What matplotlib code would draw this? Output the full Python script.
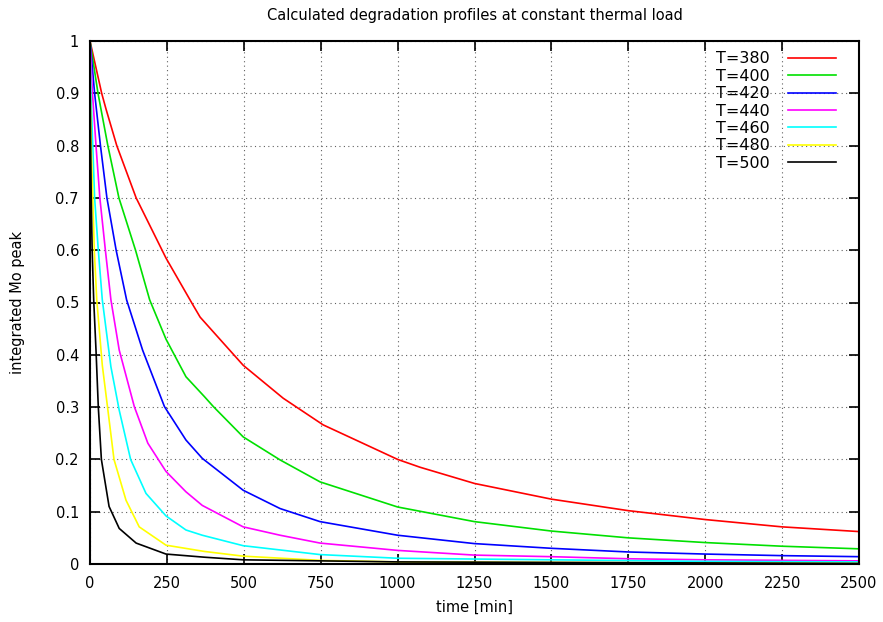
import matplotlib
matplotlib.use('Agg')
import matplotlib.pyplot as plt

plt.rcParams['font.family'] = ['DejaVu Sans']

# values (time in min, integrated Mo peak)
t380 = [0, 38, 52, 87, 150, 204, 247, 334, 358, 498, 628, 758, 1000, 1073, 1250, 1500, 1750, 2000, 2250, 2500]
y380 = [1.0, 0.90, 0.87, 0.80, 0.70, 0.636, 0.585, 0.496, 0.472, 0.380, 0.317, 0.266, 0.200, 0.185, 0.154, 0.124, 0.102, 0.085, 0.071, 0.062]

t400 = [0, 26, 58, 94, 148, 194, 247, 312, 372, 401, 498, 618, 748, 1000, 1250, 1500, 1750, 2000, 2250, 2500]
y400 = [1.0, 0.90, 0.80, 0.70, 0.60, 0.505, 0.43, 0.358, 0.32, 0.301, 0.243, 0.199, 0.157, 0.109, 0.081, 0.063, 0.050, 0.041, 0.034, 0.029]

t420 = [0, 15, 34, 55, 85, 119, 171, 242, 312, 365, 498, 618, 748, 1000, 1250, 1500, 1750, 2000, 2250, 2500]
y420 = [1.0, 0.90, 0.80, 0.70, 0.60, 0.505, 0.409, 0.301, 0.237, 0.202, 0.141, 0.106, 0.081, 0.055, 0.039, 0.030, 0.023, 0.019, 0.016, 0.014]

t440 = [0, 8, 19.5, 32, 50, 68, 95, 144, 188, 247, 312, 365, 498, 618, 748, 1000, 1250, 1500, 1750, 2000, 2250, 2500]
y440 = [1.0, 0.90, 0.80, 0.70, 0.60, 0.505, 0.409, 0.301, 0.231, 0.177, 0.138, 0.112, 0.071, 0.055, 0.040, 0.026, 0.017, 0.014, 0.010, 0.008, 0.007, 0.006]

t460 = [0, 3, 9, 15, 27, 40, 68, 95, 132, 182, 247, 312, 365, 498, 748, 1000, 1500, 2000, 2500]
y460 = [1.0, 0.90, 0.80, 0.70, 0.60, 0.505, 0.377, 0.294, 0.200, 0.135, 0.092, 0.065, 0.055, 0.035, 0.018, 0.011, 0.008, 0.005, 0.004]

t480 = [0, 1, 4, 9, 14, 22, 40, 57, 78, 117, 160, 247, 372, 498, 748, 1000, 1500, 2500]
y480 = [1.0, 0.90, 0.80, 0.70, 0.60, 0.505, 0.38, 0.30, 0.20, 0.122, 0.071, 0.036, 0.024, 0.015, 0.007, 0.004, 0.003, 0.001]

t500 = [0, 0.5, 2, 4, 7, 12, 19.5, 27, 37, 62, 95, 150, 247, 372, 498, 1000, 2500]
y500 = [1.0, 0.90, 0.80, 0.70, 0.60, 0.505, 0.409, 0.30, 0.20, 0.11, 0.068, 0.040, 0.019, 0.013, 0.008, 0.004, 0.001]

series = [
    ('T=380', t380, y380, '#ff0000'),
    ('T=400', t400, y400, '#00e000'),
    ('T=420', t420, y420, '#0000ff'),
    ('T=440', t440, y440, '#ff00ff'),
    ('T=460', t460, y460, '#00ffff'),
    ('T=480', t480, y480, '#ffff00'),
    ('T=500', t500, y500, '#000000'),
]

fig = plt.figure(figsize=(8.83, 6.22), dpi=100)
ax = fig.add_axes([90 / 883, 1 - 564 / 622, (859 - 90) / 883, (564 - 41) / 622])

for label, t, y, c in series:
    ax.plot(t, y, color=c, lw=1.2, label=label)

ax.set_xlim(0, 2500)
ax.set_ylim(0, 1)
ax.set_xticks(range(0, 2501, 250))
ax.set_yticks([i / 10 for i in range(11)])
ax.set_yticklabels(['0', '0.1', '0.2', '0.3', '0.4', '0.5', '0.6', '0.7', '0.8', '0.9', '1'])
ax.tick_params(direction='in', top=True, right=True, length=7, width=1.2, labelsize=10.5)
ax.tick_params(axis='y', pad=8)
ax.tick_params(axis='x', pad=9)
ax.grid(True, color='#606060', linestyle=(0, (1, 3)), lw=0.8)
for s in ax.spines.values():
    s.set_linewidth(1.5)

ax.set_xlabel('time [min]', fontsize=10.5, labelpad=6)
ax.set_ylabel('integrated Mo peak', fontsize=10.5, labelpad=22)
ax.set_title('Calculated degradation profiles at constant thermal load', fontsize=10.5, pad=15)

leg = ax.legend(loc='upper right', bbox_to_anchor=(1 - 17 / 769, 1 - 4 / 523),
                frameon=False, markerfirst=False, fontsize=11.5, borderaxespad=0,
                handlelength=3.0, labelspacing=0.15, handletextpad=1.1)
for txt in leg.get_texts():
    txt.set_ha('right')

fig.savefig('out.png', dpi=100)
